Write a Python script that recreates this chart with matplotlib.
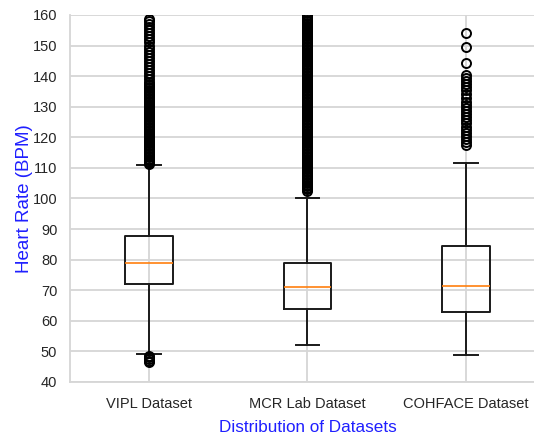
"""Heart-rate distribution of three rPPG datasets, drawn as box plots."""
import matplotlib
matplotlib.use("Agg")
import matplotlib.pyplot as plt

plt.rcParams["font.family"] = ["Liberation Sans", "DejaVu Sans"]

labels = ["VIPL Dataset", "MCR Lab Dataset", "COHFACE Dataset"]

# box statistics (BPM)
q1 = [72.0, 64.0, 62.7]
median = [79.0, 71.0, 71.3]
q3 = [87.7, 79.0, 84.3]
whisker_lo = [49.0, 52.0, 48.7]
whisker_hi = [110.8, 100.3, 111.6]

vipl_fliers = [
    46.5, 47.0, 47.5, 48.0, 48.5,
    111.2, 111.6, 112.0, 112.5, 113.0, 113.5, 114.0, 114.5, 115.0, 115.5,
    116.0, 116.5, 117.0, 117.5, 118.0, 118.5, 119.0, 119.5, 120.0, 120.5,
    121.0, 121.5, 122.0, 122.5, 123.0, 123.5, 124.0, 124.5, 125.0, 125.5,
    126.0, 126.5, 127.0, 127.5, 128.0, 128.5, 129.0, 129.5, 130.0, 130.5,
    131.0, 131.5, 132.0, 132.5, 133.0, 133.5, 134.0, 134.5, 135.0, 135.5,
    136.0, 136.5, 137.0, 137.5, 138.0, 139.0, 140.0, 141.0, 142.0, 143.0,
    144.0, 145.0, 146.0, 147.0, 148.0, 149.0, 150.0, 151.0, 152.0, 153.0,
    154.0, 155.0, 156.0, 157.0, 158.0, 158.7,
]
mcr_fliers = [
    102.5, 103.0, 103.5, 104.0, 104.5, 105.0, 105.5, 106.0, 106.5, 107.0,
    107.5, 108.0, 108.5, 109.0, 109.5, 110.0, 110.5, 111.0, 111.5, 112.0,
    112.5, 113.0, 113.5, 114.0, 114.5, 115.0, 115.5, 116.0, 116.5, 117.0,
    117.5, 118.0, 118.5, 119.0, 119.5, 120.0, 120.5, 121.0, 121.5, 122.0,
    122.5, 123.0, 123.5, 124.0, 124.5, 125.0, 125.5, 126.0, 126.5, 127.0,
    127.5, 128.0, 128.5, 129.0, 129.5, 130.0, 130.5, 131.0, 131.5, 132.0,
    132.5, 133.0, 133.5, 134.0, 134.5, 135.0, 135.5, 136.0, 136.5, 137.0,
    137.5, 138.0, 138.5, 139.0, 139.5, 140.0, 140.5, 141.0, 141.5, 142.0,
    142.5, 143.0, 143.5, 144.0, 144.5, 145.0, 145.5, 146.0, 146.5, 147.0,
    147.5, 148.0, 148.5, 149.0, 149.5, 150.0, 150.5, 151.0, 151.5, 152.0,
    152.5, 153.0, 153.5, 154.0, 154.5, 155.0, 155.5, 156.0, 156.5, 157.0,
    157.5, 158.0, 158.5, 159.0, 159.5, 160.0, 161.0,
]
cohface_fliers = [
    117.5, 118.5, 119.5, 120.5, 121.5, 122.5, 123.5, 124.5, 125.5, 126.5,
    127.5, 128.5, 129.5, 130.5, 131.5, 133.0, 134.0, 135.5, 136.5, 137.5,
    138.5, 139.5, 140.4, 144.4, 149.6, 154.2,
]
fliers = [vipl_fliers, mcr_fliers, cohface_fliers]

stats = []
for i, name in enumerate(labels):
    stats.append({
        "label": name,
        "q1": q1[i], "med": median[i], "q3": q3[i],
        "whislo": whisker_lo[i], "whishi": whisker_hi[i],
        "fliers": fliers[i],
    })

fig = plt.figure(figsize=(5.34, 4.34), dpi=100)
ax = fig.add_axes([0.1307, 0.12, 0.89, 0.8456])

ax.bxp(
    stats,
    widths=0.3,
    boxprops=dict(color="#1a1a1a", linewidth=1.4),
    whiskerprops=dict(color="#1a1a1a", linewidth=1.4),
    capprops=dict(color="#1a1a1a", linewidth=1.4),
    medianprops=dict(color="#ff7f0e", linewidth=1.2),
    flierprops=dict(marker="o", markersize=6.5, markerfacecolor="none",
                    markeredgecolor="black", markeredgewidth=1.4),
)

ax.set_xlim(0.5, 3.5)
ax.set_ylim(40, 160)
ax.set_yticks(range(40, 161, 10))
ax.grid(True, color="#d6d6d6", linewidth=1.3)
ax.set_axisbelow(True)
for side in ["top", "right"]:
    ax.spines[side].set_visible(False)
for side in ["left", "bottom"]:
    ax.spines[side].set_color("#d6d6d6")
    ax.spines[side].set_linewidth(1.3)
ax.tick_params(length=0, labelsize=10.5, labelcolor="#262626")
ax.tick_params(axis="y", pad=9)
ax.tick_params(axis="x", pad=11)

ax.set_ylabel("Heart Rate (BPM)", color="#1f1fff", fontsize=13.5, labelpad=0)
ax.set_xlabel("Distribution of Datasets", color="#1f1fff", fontsize=12.3, labelpad=6)

fig.savefig("out.png", dpi=100)
